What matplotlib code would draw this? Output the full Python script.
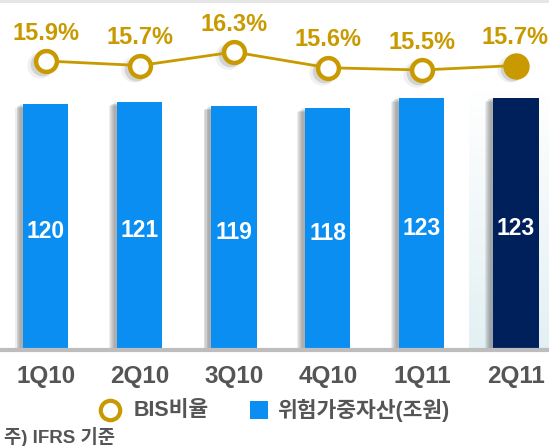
import numpy as np
import matplotlib
matplotlib.use("Agg")
import matplotlib.pyplot as plt
from matplotlib.patches import Rectangle
from matplotlib.lines import Line2D

plt.rcParams['font.family'] = ['Liberation Sans', 'Noto Sans CJK KR', 'DejaVu Sans']

quarters = ["1Q10", "2Q10", "3Q10", "4Q10", "1Q11", "2Q11"]
rwa = [120, 121, 119, 118, 123, 123]          # 위험가중자산(조원)
bis = [15.9, 15.7, 16.3, 15.6, 15.5, 15.7]    # BIS비율 (%)
legend_labels = ["BIS비율", "위험가중자산(조원)"]
footnote = "주) IFRS 기준"

W, H, DPI = 549, 446, 100
gold = "#C99A00"
blue = "#0A8EF2"
navy = "#00205C"
gray_txt = "#555555"

fig = plt.figure(figsize=(W / DPI, H / DPI), dpi=DPI)
fig.patch.set_facecolor("white")

# pixel geometry of the plotting band
base_px = 350
spacing_px = 94.0
first_px = 46.0
x = np.arange(len(quarters))
xl = (-first_px / spacing_px, (W - first_px) / spacing_px)

ax = fig.add_axes([0, (H - base_px) / H, 1, base_px / H])
ax.set_xlim(*xl)
px_per_unit = 246 / 120
ax.set_ylim(0, base_px / px_per_unit)
ax.axis("off")

# soft highlight panel behind the latest quarter
grad = np.linspace(0, 1, 256).reshape(-1, 1)
c_lo = np.array([0.89, 0.94, 0.955])
c_hi = np.array([1.0, 1.0, 1.0])
img = c_lo[None, None, :] * (1 - grad[:, :, None]) + c_hi[None, None, :] * grad[:, :, None]
ax.imshow(img, extent=(5 - 0.5, xl[1], 0, 260 / px_per_unit), origin="lower",
          aspect="auto", zorder=0)

bw = 45 / spacing_px
# soft shadow to the left of each bar
for i, v in enumerate(rwa):
    for k, a in zip(range(6), [0.05, 0.05, 0.06, 0.06, 0.07, 0.07]):
        off = (3 + k) / spacing_px
        ax.add_patch(Rectangle((x[i] - bw / 2 - off, 0), bw, v - (k * 0.4),
                               facecolor="black", alpha=a, edgecolor="none", zorder=1))

colors = [blue] * (len(rwa) - 1) + [navy]
ax.bar(x, rwa, width=bw, color=colors, zorder=2)
for i, v in enumerate(rwa):
    ax.text(x[i], v / 2 - 2, f"{v}", ha="center", va="center",
            color="white", fontsize=16.5, fontweight="bold", zorder=3)

# baseline
ax.axhline(0, color="#BDBDBD", lw=3, zorder=3, clip_on=False)

# BIS ratio line on its own scale
ax2 = fig.add_axes([0, (H - base_px) / H, 1, base_px / H])
ax2.set_xlim(*xl)
top_val = 16.3 + 52 / 22.5
bot_val = 16.3 - (base_px - 52) / 22.5
ax2.set_ylim(bot_val, top_val)
ax2.axis("off")
ax2.patch.set_alpha(0)

# marker shadows
sh_dx, sh_dy = -4 / spacing_px, -3 / 22.5
ax2.plot(np.array(x) + sh_dx, np.array(bis) + sh_dy, "o", ms=17, color="black",
         alpha=0.12, mec="none", zorder=3)
ax2.plot(np.array(x) + sh_dx * 1.5, np.array(bis) + sh_dy * 1.3, "o", ms=19, color="black",
         alpha=0.06, mec="none", zorder=3)

ax2.plot(x, bis, color=gold, lw=2, zorder=4)
ax2.plot(x[:-1], bis[:-1], "o", ms=15, mfc="white", mec=gold, mew=3.2, zorder=5)
ax2.plot(x[-1:], bis[-1:], "o", ms=18, mfc=gold, mec=gold, mew=1, zorder=5)
for i, v in enumerate(bis):
    ax2.annotate(f"{v}%", (x[i], v), xytext=(-1 if i == len(bis) - 1 else 0, 20),
                 textcoords="offset points", ha="center", va="center", color=gold,
                 fontsize=17, fontweight="bold", zorder=6)

# category labels under the baseline
for i, q in enumerate(quarters):
    px = first_px + spacing_px * i
    fig.text(px / W, 1 - 377 / H, q, ha="center", va="center", color=gray_txt,
             fontsize=17.5, fontweight="bold")

# legend
fig.add_artist(Line2D([110 / W], [1 - 410 / H], marker="o", ms=14, mfc="white",
                      mec=gold, mew=3, transform=fig.transFigure, ls="none"))
fig.text(134 / W, 1 - 410 / H, legend_labels[0], ha="left", va="center",
         color=gray_txt, fontsize=15.5, fontweight="bold")
fig.add_artist(Rectangle((250 / W, 1 - 419 / H), 18 / W, 18 / H, facecolor=blue,
                         edgecolor="none", transform=fig.transFigure))
fig.text(277 / W, 1 - 410 / H, legend_labels[1], ha="left", va="center",
         color=gray_txt, fontsize=15.5, fontweight="bold")

fig.text(4 / W, 1 - 437 / H, footnote, ha="left", va="center", color=gray_txt,
         fontsize=13.5, fontweight="bold")

# faint rule at the very top
fig.add_artist(Rectangle((0, 1 - 3 / H), 1, 3 / H, facecolor="#E6E6E6",
                         edgecolor="none", transform=fig.transFigure))

fig.savefig("out.png", dpi=DPI)
